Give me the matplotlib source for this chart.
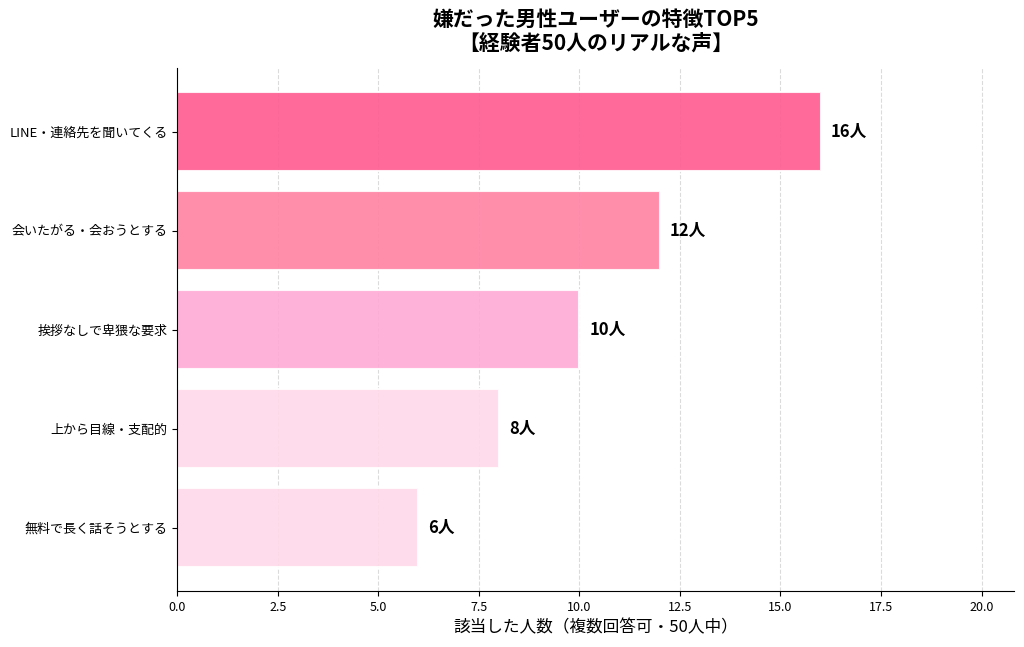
import matplotlib
matplotlib.use("Agg")
import matplotlib.pyplot as plt

plt.rcParams['font.family'] = ['Noto Sans CJK JP', 'DejaVu Sans']

categories = ["LINE・連絡先を聞いてくる", "会いたがる・会おうとする", "挨拶なしで卑猥な要求",
              "上から目線・支配的", "無料で長く話そうとする"]
values = [16, 12, 10, 8, 6]
value_labels = ["16人", "12人", "10人", "8人", "6人"]
colors = ["#FF5A8F", "#FF82A2", "#FFAAD5", "#FFD9E9", "#FFD9E9"]
title = "嫌だった男性ユーザーの特徴TOP5\n【経験者50人のリアルな声】"
xlabel = "該当した人数（複数回答可・50人中）"

fig = plt.figure(figsize=(10.24, 6.47), dpi=100)
ax = fig.add_axes([0.173, 0.0866, 0.817, 0.808])

ypos = list(range(len(categories)))
ax.barh(ypos, values, height=0.8, color=colors, alpha=0.9, edgecolor='white', linewidth=1.5, zorder=2)
ax.set_yticks(ypos)
ax.set_yticklabels(categories, fontsize=9.4)
ax.invert_yaxis()
ax.set_xlim(0, max(values) * 1.3)

for y, v, lab in zip(ypos, values, value_labels):
    ax.text(v + 0.25, y, lab, va='center', ha='left', fontsize=12, fontweight='bold')

ax.set_xlabel(xlabel, fontsize=12)
ax.set_title(title, fontsize=15, fontweight='bold', pad=13, linespacing=1.2)
ax.tick_params(axis='x', labelsize=9)
ax.grid(axis='x', linestyle='--', color='#cccccc', alpha=0.7, zorder=0)
ax.set_axisbelow(True)
ax.spines['top'].set_visible(False)
ax.spines['right'].set_visible(False)

fig.savefig("out.png", dpi=100)
